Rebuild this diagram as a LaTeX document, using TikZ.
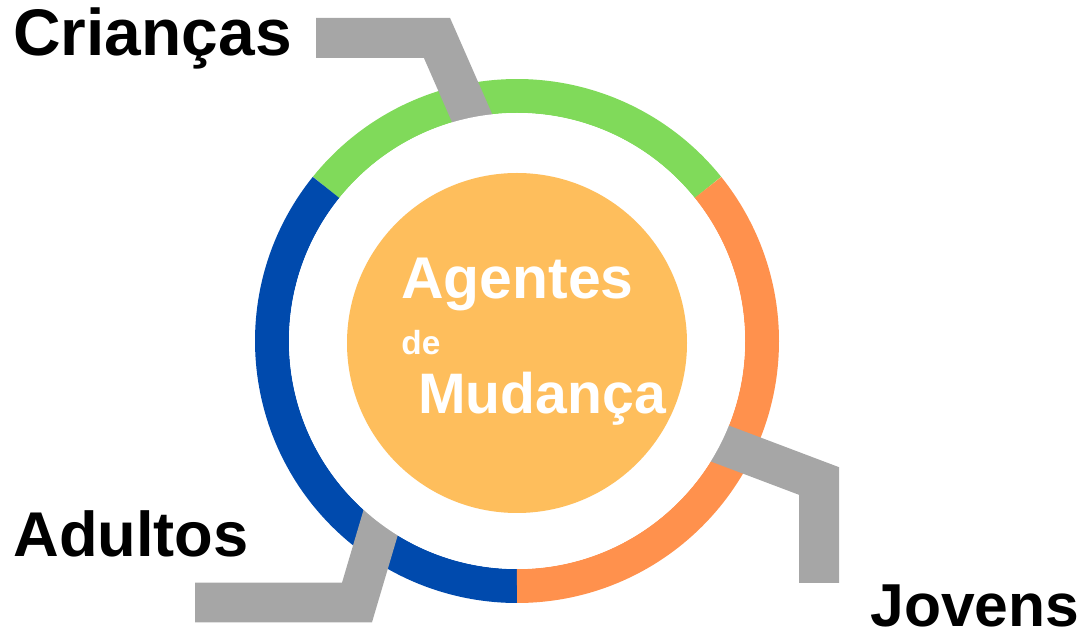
\documentclass[tikz,border=0pt]{standalone}
\usepackage{fontspec}
\setmainfont{Liberation Sans}
\usetikzlibrary{calc,positioning}
\definecolor{verde}{HTML}{80DA5A}
\definecolor{laranja}{HTML}{FF914D}
\definecolor{azul}{HTML}{004AAD}
\definecolor{centro}{HTML}{FEBE5C}
\definecolor{cinza}{HTML}{A6A6A6}

\begin{document}
\begin{tikzpicture}[x=0.02cm,y=0.02cm,
    anel/.style={line width=0.68cm},
    barra/.style={draw=cinza,line width=0.8cm,line join=miter},
    rotulo/.style={inner sep=0pt,anchor=base west,font=\fontsize{36}{40}\selectfont\bfseries},
    texto/.style={inner sep=0pt,anchor=base west,text=white,font=\fontsize{33.5}{38}\selectfont\bfseries}]
                \useasboundingbox (0,0) rectangle (1086,636);
                \coordinate (c) at (517,295);
                % anel
                \draw [anel,verde] ($(c)+(38.8:245)$) arc[start angle=38.8,end angle=141.2,radius=245];
                \draw [anel,azul] ($(c)+(141.2:245)$) arc[start angle=141.2,end angle=270,radius=245];
                \draw [anel,laranja] ($(c)+(-90:245)$) arc[start angle=-90,end angle=38.8,radius=245];
                % rotulos
                \node [rotulo,font=\fontsize{37.5}{42}\selectfont\bfseries] (criancas) at (13,580) {Crianças};
                \node [rotulo] (adultos) at (13,79) {Adultos};
                \node [rotulo,font=\fontsize{34.5}{40}\selectfont\bfseries] (jovens) at (870,10) {Jovens};
                % barras
                \coordinate (c1) at (316,598);
                \coordinate (c2) at (437,598);
                \coordinate (c3) at (490,477);
                \coordinate (j1) at (819,53);
                \coordinate (j2) at (819,155);
                \coordinate (j3) at (700,200);
                \coordinate (a1) at (195,33.5);
                \coordinate (a2) at (357,33.5);
                \coordinate (a3) at (390,145);
                \draw [barra] (c1) -- (c2) -- (c3);
                \draw [barra] (j1) -- (j2) -- (j3);
                \draw [barra] (a1) -- (a2) -- (a3);
                % centro
                \fill [white] (c) circle (228);
                \fill [centro] (517,293) circle (170);
                \node [texto] (agentes) at (401,337.4) {Agentes};
                \node [texto,font=\fontsize{19}{22}\selectfont\bfseries] (de) at (401,281) {de};
                \node [texto,font=\fontsize{32.5}{38}\selectfont\bfseries] (mudanca) at (418,222.4) {Mudança};
            \end{tikzpicture}
\end{document}
